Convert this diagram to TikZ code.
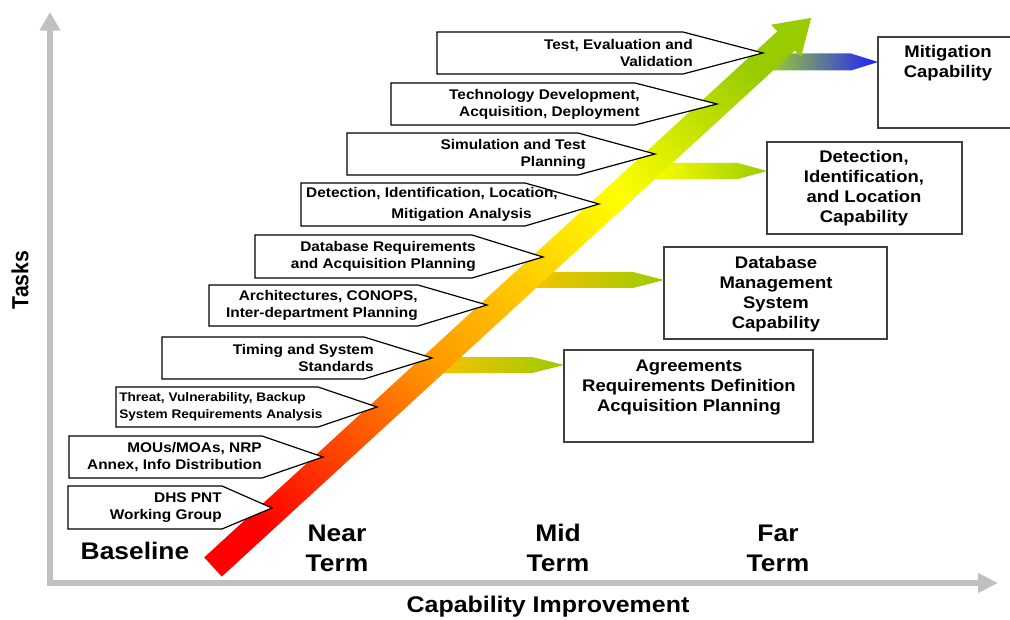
\documentclass[tikz,border=0pt]{standalone}
\usepackage{fontspec}
\setmainfont{Liberation Sans}[FakeStretch=1.1]
\newfontfamily\tasksfont{Liberation Sans}[FakeStretch=0.91]
\usetikzlibrary{arrows.meta,fit,calc}

\definecolor{axisgray}{HTML}{C0C0C0}
\definecolor{boxgray}{HTML}{404040}
\definecolor{arrowred}{HTML}{FF0000}
\definecolor{arroworange}{HTML}{FF9900}
\definecolor{arrowgold}{HTML}{FFE600}
\definecolor{arrowyellow}{HTML}{FFFF00}
\definecolor{arrowgreen}{HTML}{99CC00}
\definecolor{capamber}{HTML}{F5C200}
\definecolor{capgreen}{HTML}{99CC00}
\definecolor{capyellow}{HTML}{FFFF00}
\definecolor{caplime}{HTML}{99CC33}
\definecolor{capblue}{HTML}{1E1EFF}

\pgfdeclarehorizontalshading{rampshade}{100bp}{color(0bp)=(arrowred); color(29bp)=(arrowred); color(43.5bp)=(arroworange); color(55bp)=(arrowgold); color(59bp)=(arrowyellow); color(70bp)=(arrowgreen); color(100bp)=(arrowgreen)}

\begin{document}
\begin{tikzpicture}[x=0.75pt,y=-0.75pt,
  axisline/.style={draw=axisgray,line width=4.5pt,line join=miter,
    {Triangle[length=14pt,width=15pt]}-{Triangle[length=15pt,width=14pt]}},
  task box/.style={inner sep=0pt,outer sep=0pt},
  callout/.style={draw=black,fill=white,line width=0.9pt,line join=miter},
  tasktext/.style={font=\bfseries\fontsize{10.5}{12.75}\selectfont,align=right,inner sep=0pt,anchor=east},
  cap box/.style={draw=boxgray,line width=1pt,fill=white,inner sep=0pt,outer sep=0pt},
  captext/.style={font=\bfseries\fontsize{12.6}{15}\selectfont,align=center},
  termtext/.style={font=\bfseries\fontsize{18}{22.5}\selectfont,align=center}]

  \useasboundingbox (0,0) rectangle (1010,620);

  % axes
  \coordinate (origin) at (50,583);
  \draw[axisline] (50,12) -- (origin) -- (998,583);

  % capability boxes
  \node[cap box,fit={(564,350) (813,442)}] (agree-box) {};
  \node[cap box,fit={(664,247) (887,339)}] (db-box) {};
  \node[cap box,fit={(767,142) (962,234)}] (det-box) {};
  \node[cap box,fit={(878,37) (1020,128)}] (mit-box) {};

  % feeds from the ramp into the boxes
  \shade[left color=capamber,right color=capgreen]
    ($(agree-box.north west)+(0,15)$) -- ++(-32,-8) -- ++(-90,0) -- ++(0,16) -- ++(90,0) -- cycle;
  \shade[left color=capamber,right color=capgreen]
    ($(db-box.north west)+(0,33)$) -- ++(-31,-8) -- ++(-97,0) -- ++(0,16) -- ++(97,0) -- cycle;
  \shade[left color=capyellow,right color=capgreen]
    ($(det-box.north west)+(0,29)$) -- ++(-29,-8) -- ++(-88,0) -- ++(0,16) -- ++(88,0) -- cycle;
  \shade[left color=caplime,right color=capblue]
    ($(mit-box.north west)+(0,25)$) -- ++(-27,-8.5) -- ++(-80,0) -- ++(0,17) -- ++(80,0) -- cycle;

  % main ramp
  \begin{scope}[transform canvas={shift={(213,567)},rotate=42.55}]
    \shade[shading=rampshade] (0,-13) -- (778,-13) -- (778,-22) -- (812,0)
      -- (778,22) -- (778,13) -- (0,13) -- cycle;
  \end{scope}

  % task callouts
  \coordinate (dhs-tip) at (272,508);
  \coordinate (mou-tip) at (323,457);
  \coordinate (threat-tip) at (377,407);
  \coordinate (timing-tip) at (432,358);
  \coordinate (arch-tip) at (487,305);
  \coordinate (dbreq-tip) at (543,257);
  \coordinate (detect-tip) at (599,204);
  \coordinate (sim-tip) at (655,154);
  \coordinate (tech-tip) at (717,104);
  \coordinate (test-tip) at (763,53);

  \node[task box,fit={(68,486) (222,529)}] (dhs-box) {};
  \node[task box,fit={(69,436) (262,478)}] (mou-box) {};
  \node[task box,fit={(116,387) (318,427)}] (threat-box) {};
  \node[task box,fit={(162,337) (364,379)}] (timing-box) {};
  \node[task box,fit={(209,285) (418,326)}] (arch-box) {};
  \node[task box,fit={(255,235) (472,278)}] (dbreq-box) {};
  \node[task box,fit={(301,183) (525,226)}] (detect-box) {};
  \node[task box,fit={(347,133) (578,175)}] (sim-box) {};
  \node[task box,fit={(391,83) (635,125)}] (tech-box) {};
  \node[task box,fit={(437,32) (683,74)}] (test-box) {};

  \foreach \c in {dhs,mou,threat,timing,arch,dbreq,detect,sim,tech,test}
    \draw[callout] (\c-box.north west) -- (\c-box.north east) -- (\c-tip)
      -- (\c-box.south east) -- (\c-box.south west) -- cycle;

  \node[tasktext] (dhs) at (dhs-box.east) {DHS PNT\\Working Group};
  \node[tasktext] (mou) at (mou-box.east) {MOUs/MOAs, NRP\\Annex, Info Distribution};
  \node[tasktext,align=left,anchor=west,font=\bfseries\fontsize{9.3}{12.75}\selectfont]
    (threat) at ($(threat-box.west)+(3,0)$) {Threat, Vulnerability, Backup\\System Requirements Analysis};
  \node[tasktext] (timing) at ($(timing-box.east)+(10,0)$) {Timing and System\\Standards};
  \node[tasktext] (arch) at (arch-box.east) {Architectures, CONOPS,\\Inter-department Planning};
  \node[tasktext] (dbreq) at ($(dbreq-box.east)+(4,0)$) {Database Requirements\\and Acquisition Planning};
  \node[tasktext,font=\bfseries\fontsize{10.5}{15.75}\selectfont]
    (detect) at ($(detect-box.east)+(33,0)$) {Detection, Identification, Location,\\Mitigation Analysis\hspace*{19.5pt}};
  \node[tasktext] (sim) at ($(sim-box.east)+(8,0)$) {Simulation and Test\\Planning};
  \node[tasktext] (tech) at ($(tech-box.east)+(5,0)$) {Technology Development,\\Acquisition, Deployment};
  \node[tasktext] (test) at ($(test-box.east)+(10,0)$) {Test, Evaluation and\\Validation};

  % capability texts
  \node[captext] (agree) at (689,387) {Agreements\\Requirements Definition\\Acquisition Planning};
  \node[captext] (db) at (776,294) {Database\\Management\\System\\Capability};
  \node[captext] (det) at (864,188.5) {Detection,\\Identification,\\and Location\\Capability};
  \node[captext] (mit) at (948,63) {Mitigation\\Capability};

  % time scale and axis titles
  \node[termtext] (baseline) at (135,551) {Baseline};
  \node[termtext] (near) at (337,548) {Near\\Term};
  \node[termtext] (mid) at (558,548) {Mid\\Term};
  \node[termtext] (far) at (778,548) {Far\\Term};
  \node[font=\bfseries\fontsize{17}{20}\selectfont] (xtitle) at (548,607) {Capability Improvement};
  \node[font=\tasksfont\bfseries\fontsize{17.5}{20}\selectfont,rotate=90] (ytitle) at (20,280) {Tasks};
\end{tikzpicture}
\end{document}
